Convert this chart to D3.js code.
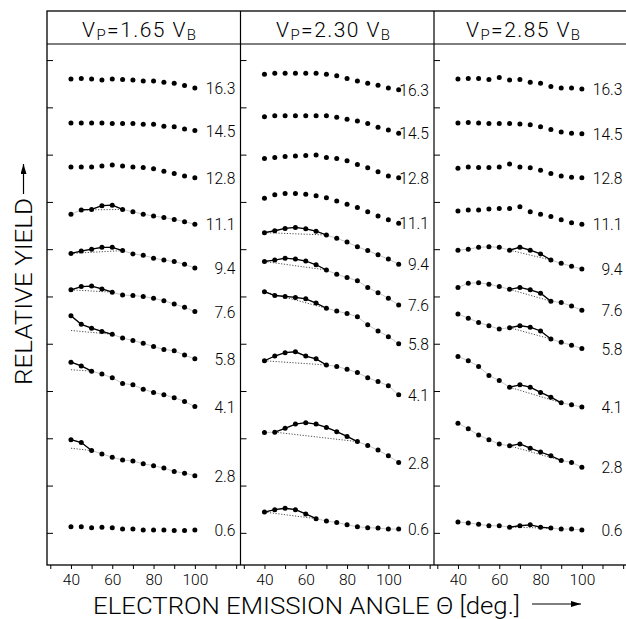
<!DOCTYPE html>
<html>
<head>
<meta charset="utf-8">
<script src="https://cdn.jsdelivr.net/npm/d3@7"></script>
<style>
    body { margin: 0; background: #fff; }
    svg { display: block; font-family: Roboto, "DejaVu Sans", sans-serif; font-weight: 300; }
</style>
</head>
<body>
<div id="chart"></div>
<script>
// パネル見出し (V_P / V_B)
const panelRatios = ["1.65", "2.30", "2.85"];

// 放出角 [deg.]
const anglesP1 = [40, 45, 50, 55, 60, 65, 70, 75, 80, 85, 90, 95, 100];
const anglesP2 = [40, 45, 50, 55, 60, 65, 70, 75, 80, 85, 90, 95, 100, 105];
const anglesP3 = [40, 45, 50, 55, 60, 65, 70, 75, 80, 85, 90, 95, 100];

// 各曲線のラベル (上から順)
const curveLabels = ["16.3", "14.5", "12.8", "11.1", "9.4", "7.6", "5.8", "4.1", "2.8", "0.6"];

// 相対収量 (オフセット込み)
const yieldP1 = [
    [9.60, 9.61, 9.60, 9.58, 9.60, 9.59, 9.58, 9.56, 9.56, 9.53, 9.51, 9.46, 9.41],
    [8.67, 8.67, 8.67, 8.67, 8.66, 8.66, 8.66, 8.64, 8.64, 8.60, 8.59, 8.54, 8.51],
    [7.74, 7.74, 7.74, 7.76, 7.78, 7.76, 7.74, 7.73, 7.70, 7.65, 7.60, 7.55, 7.51],
    [6.74, 6.83, 6.84, 6.92, 6.93, 6.84, 6.79, 6.74, 6.70, 6.67, 6.63, 6.58, 6.53],
    [5.91, 5.96, 6.00, 6.04, 6.04, 5.97, 5.90, 5.87, 5.81, 5.77, 5.74, 5.68, 5.60],
    [5.14, 5.21, 5.22, 5.16, 5.09, 5.03, 5.02, 5.00, 4.96, 4.91, 4.84, 4.77, 4.68],
    [4.59, 4.41, 4.33, 4.26, 4.20, 4.12, 4.07, 4.01, 3.94, 3.88, 3.85, 3.76, 3.68],
    [3.61, 3.53, 3.42, 3.36, 3.28, 3.16, 3.13, 3.04, 2.97, 2.92, 2.86, 2.78, 2.67],
    [1.97, 1.91, 1.74, 1.67, 1.60, 1.54, 1.52, 1.46, 1.42, 1.37, 1.30, 1.26, 1.21],
    [0.13, 0.13, 0.11, 0.12, 0.11, 0.08, 0.08, 0.06, 0.06, 0.06, 0.05, 0.05, 0.06]
];
const yieldP2 = [
    [9.70, 9.72, 9.72, 9.72, 9.72, 9.72, 9.70, 9.67, 9.61, 9.56, 9.51, 9.47, 9.41, 9.37],
    [8.80, 8.82, 8.82, 8.82, 8.82, 8.82, 8.82, 8.79, 8.75, 8.71, 8.66, 8.58, 8.52, 8.45],
    [7.92, 7.94, 7.96, 7.97, 7.98, 7.99, 7.94, 7.92, 7.87, 7.79, 7.72, 7.64, 7.55, 7.51],
    [7.08, 7.15, 7.18, 7.18, 7.16, 7.13, 7.09, 7.02, 6.95, 6.88, 6.79, 6.70, 6.62, 6.55],
    [6.35, 6.39, 6.44, 6.46, 6.43, 6.38, 6.30, 6.23, 6.15, 6.05, 5.97, 5.88, 5.79, 5.68],
    [5.74, 5.77, 5.81, 5.79, 5.75, 5.67, 5.56, 5.47, 5.40, 5.33, 5.19, 5.08, 4.96, 4.82],
    [5.10, 5.02, 5.00, 4.98, 4.95, 4.86, 4.75, 4.69, 4.64, 4.57, 4.40, 4.27, 4.15, 4.00],
    [3.64, 3.74, 3.81, 3.83, 3.74, 3.68, 3.55, 3.52, 3.46, 3.39, 3.28, 3.20, 3.11, 2.92],
    [2.12, 2.13, 2.21, 2.30, 2.33, 2.30, 2.23, 2.14, 2.04, 1.93, 1.85, 1.75, 1.63, 1.49],
    [0.44, 0.49, 0.52, 0.49, 0.40, 0.30, 0.25, 0.22, 0.17, 0.13, 0.11, 0.10, 0.08, 0.08]
];
const yieldP3 = [
    [9.60, 9.61, 9.61, 9.59, 9.63, 9.58, 9.59, 9.53, 9.51, 9.44, 9.41, 9.41, 9.39],
    [8.67, 8.68, 8.67, 8.66, 8.66, 8.66, 8.65, 8.63, 8.59, 8.53, 8.48, 8.45, 8.44],
    [7.71, 7.74, 7.73, 7.73, 7.74, 7.80, 7.74, 7.72, 7.67, 7.60, 7.55, 7.52, 7.51],
    [6.81, 6.83, 6.83, 6.85, 6.86, 6.86, 6.90, 6.79, 6.74, 6.69, 6.62, 6.56, 6.53],
    [5.98, 6.00, 6.04, 6.05, 6.04, 5.98, 6.04, 5.98, 5.90, 5.77, 5.70, 5.64, 5.58],
    [5.19, 5.28, 5.29, 5.26, 5.21, 5.15, 5.19, 5.14, 5.07, 4.90, 4.87, 4.80, 4.71],
    [4.63, 4.54, 4.45, 4.38, 4.31, 4.34, 4.38, 4.35, 4.27, 4.10, 4.03, 3.97, 3.90],
    [3.73, 3.64, 3.52, 3.33, 3.22, 3.08, 3.13, 3.08, 2.97, 2.87, 2.75, 2.71, 2.66],
    [2.32, 2.20, 2.07, 1.97, 1.88, 1.84, 1.88, 1.79, 1.71, 1.63, 1.53, 1.49, 1.39],
    [0.23, 0.21, 0.18, 0.15, 0.15, 0.12, 0.15, 0.17, 0.12, 0.10, 0.08, 0.08, 0.06]
];

// ピーク区間 [開始角, 終了角, 背景の開始値(なければ曲線上)]
const peaksP1 = [null, null, null, [45, 65], [40, 65], [40, 60], [40, 60, 4.28], [40, 50, 3.45], [40, 50, 1.79], null];
const peaksP2 = [null, null, null, null, [40, 70], [40, 70], [40, 70], [40, 70], [45, 85], [40, 65]];
const peaksP3 = [null, null, null, null, [65, 85], [65, 85], [65, 85], [65, 90], [65, 90], [65, 85]];

// 軸目盛
const xTickValues = [30, 40, 50, 60, 70, 80, 90, 100, 110, 120];
const xTickLabels = [40, 60, 80, 100];
const yTickValues = [0, 1, 2, 3, 4, 5, 6, 7, 8, 9, 10];

const width = 626;
const height = 619;

const svg = d3.select("#chart")
    .append("svg")
    .attr("width", width)
    .attr("height", height);

const panelEdges = [47, 240.5, 434, 627.5];
const titleStarts = [82, 276, 466];
const frameTop = 11;
const headerBottom = 44;
const frameBottom = 565;

// 文字を横に詰める
function condense(sel, factor) {
    sel.each(function () {
        const len = this.getComputedTextLength();
        d3.select(this)
            .attr("textLength", len * factor)
            .attr("lengthAdjust", "spacingAndGlyphs");
    });
}

const y = d3.scaleLinear()
    .domain([-0.68, 10.34])
    .range([frameBottom, headerBottom]);

const panelAngles = [anglesP1, anglesP2, anglesP3];
const panelYields = [yieldP1, yieldP2, yieldP3];
const panelPeaks = [peaksP1, peaksP2, peaksP3];

// 外枠
svg.append("rect")
    .attr("x", panelEdges[0])
    .attr("y", frameTop)
    .attr("width", panelEdges[3] - panelEdges[0])
    .attr("height", frameBottom - frameTop)
    .attr("fill", "none")
    .attr("stroke", "#000")
    .attr("stroke-width", 1.3);

svg.append("line")
    .attr("x1", panelEdges[0]).attr("x2", panelEdges[3])
    .attr("y1", headerBottom).attr("y2", headerBottom)
    .attr("stroke", "#000").attr("stroke-width", 1.2);

panelRatios.forEach(function (ratio, i) {
    const left = panelEdges[i];
    const right = panelEdges[i + 1];

    const x = d3.scaleLinear()
        .domain([28.4, 122.1])
        .range([left, right]);

    const g = svg.append("g");

    // 仕切り線
    if (i > 0) {
        g.append("line")
            .attr("x1", left).attr("x2", left)
            .attr("y1", frameTop).attr("y2", frameBottom)
            .attr("stroke", "#000").attr("stroke-width", 1.2);
    }

    // 見出し
    const title = g.append("text")
        .attr("x", titleStarts[i])
        .attr("y", 37)
        .attr("font-size", 21)
        .attr("textLength", 114)
        .attr("lengthAdjust", "spacing");
    title.append("tspan").text("V");
    title.append("tspan").attr("font-size", 15).attr("dy", 3).text("P");
    title.append("tspan").attr("dy", -3).text("=" + ratio + " V");
    title.append("tspan").attr("font-size", 15).attr("dy", 3).text("B");

    // y目盛 (内向き)
    g.append("g")
        .attr("transform", `translate(${left},0)`)
        .call(d3.axisRight(y).tickValues(yTickValues).tickSize(6).tickFormat(""))
        .call(function (a) { a.select(".domain").remove(); })
        .selectAll("line").attr("stroke-width", 1);

    // x軸
    const xa = g.append("g")
        .attr("transform", `translate(0,${frameBottom})`)
        .call(d3.axisBottom(x)
            .tickValues(xTickValues)
            .tickSize(4)
            .tickPadding(5)
            .tickFormat(function (d) { return xTickLabels.includes(d) ? d : ""; }));
    xa.select(".domain").remove();
    xa.selectAll("text")
        .attr("font-size", 15.5)
        .attr("font-family", "Roboto, DejaVu Sans, sans-serif")
        .attr("font-weight", 300)
        .attr("fill", "#000");

    const angles = panelAngles[i];
    const lineGen = d3.line()
        .x(function (d) { return x(d[0]); })
        .y(function (d) { return y(d[1]); });

    panelYields[i].forEach(function (values, k) {
        const pts = angles.map(function (a, j) { return [a, values[j]]; });
        const peak = panelPeaks[i][k];

        if (peak) {
            const seg = pts.filter(function (p) { return p[0] >= peak[0] && p[0] <= peak[1]; });
            const startVal = peak.length > 2 ? peak[2] : seg[0][1];

            // 背景 (点線)
            g.append("path")
                .attr("d", lineGen([[peak[0], startVal], seg[seg.length - 1]]))
                .attr("fill", "none")
                .attr("stroke", "#000")
                .attr("stroke-width", 0.7)
                .attr("stroke-dasharray", "1.2,1.6");

            // ピーク (実線)
            g.append("path")
                .attr("d", lineGen(seg))
                .attr("fill", "none")
                .attr("stroke", "#000")
                .attr("stroke-width", 1.3);

            // 全体をつなぐ細線
            g.append("path")
                .attr("d", lineGen(pts))
                .attr("fill", "none")
                .attr("stroke", "#000")
                .attr("stroke-opacity", 0.45)
                .attr("stroke-width", 0.5);
        }

        g.append("g")
            .selectAll("circle")
            .data(pts)
            .enter()
            .append("circle")
            .attr("cx", function (d) { return x(d[0]); })
            .attr("cy", function (d) { return y(d[1]); })
            .attr("r", 2.5)
            .attr("fill", "#000");

        const last = pts[pts.length - 1];
        g.append("text")
            .attr("x", right - 5)
            .attr("y", y(last[1]))
            .attr("dy", "0.36em")
            .attr("text-anchor", "end")
            .attr("font-size", 17)
            .text(curveLabels[k])
            .call(condense, 0.92);
    });
});

// x軸タイトル
svg.append("text")
    .attr("x", 93)
    .attr("y", 614)
    .attr("font-size", 23.5)
    .attr("textLength", 427)
    .attr("lengthAdjust", "spacingAndGlyphs")
    .text("ELECTRON EMISSION ANGLE Θ [deg.]");

// y軸タイトル
svg.append("text")
    .attr("transform", "translate(31.5,385) rotate(-90)")
    .attr("font-size", 23.5)
    .attr("textLength", 187)
    .attr("lengthAdjust", "spacingAndGlyphs")
    .text("RELATIVE YIELD");

// 矢印
svg.append("defs").append("marker")
    .attr("id", "arrow")
    .attr("viewBox", "0 0 10 6")
    .attr("refX", 10).attr("refY", 3)
    .attr("markerWidth", 10).attr("markerHeight", 6)
    .attr("markerUnits", "userSpaceOnUse")
    .attr("orient", "auto")
    .append("path")
    .attr("d", "M0,0 L10,3 L0,6 Z")
    .attr("fill", "#000");

svg.append("line")
    .attr("x1", 532).attr("x2", 581)
    .attr("y1", 604).attr("y2", 604)
    .attr("stroke", "#000").attr("stroke-width", 1.2)
    .attr("marker-end", "url(#arrow)");

svg.append("line")
    .attr("x1", 23.5).attr("x2", 23.5)
    .attr("y1", 194).attr("y2", 164)
    .attr("stroke", "#000").attr("stroke-width", 1.2)
    .attr("marker-end", "url(#arrow)");
</script>
</body>
</html>
